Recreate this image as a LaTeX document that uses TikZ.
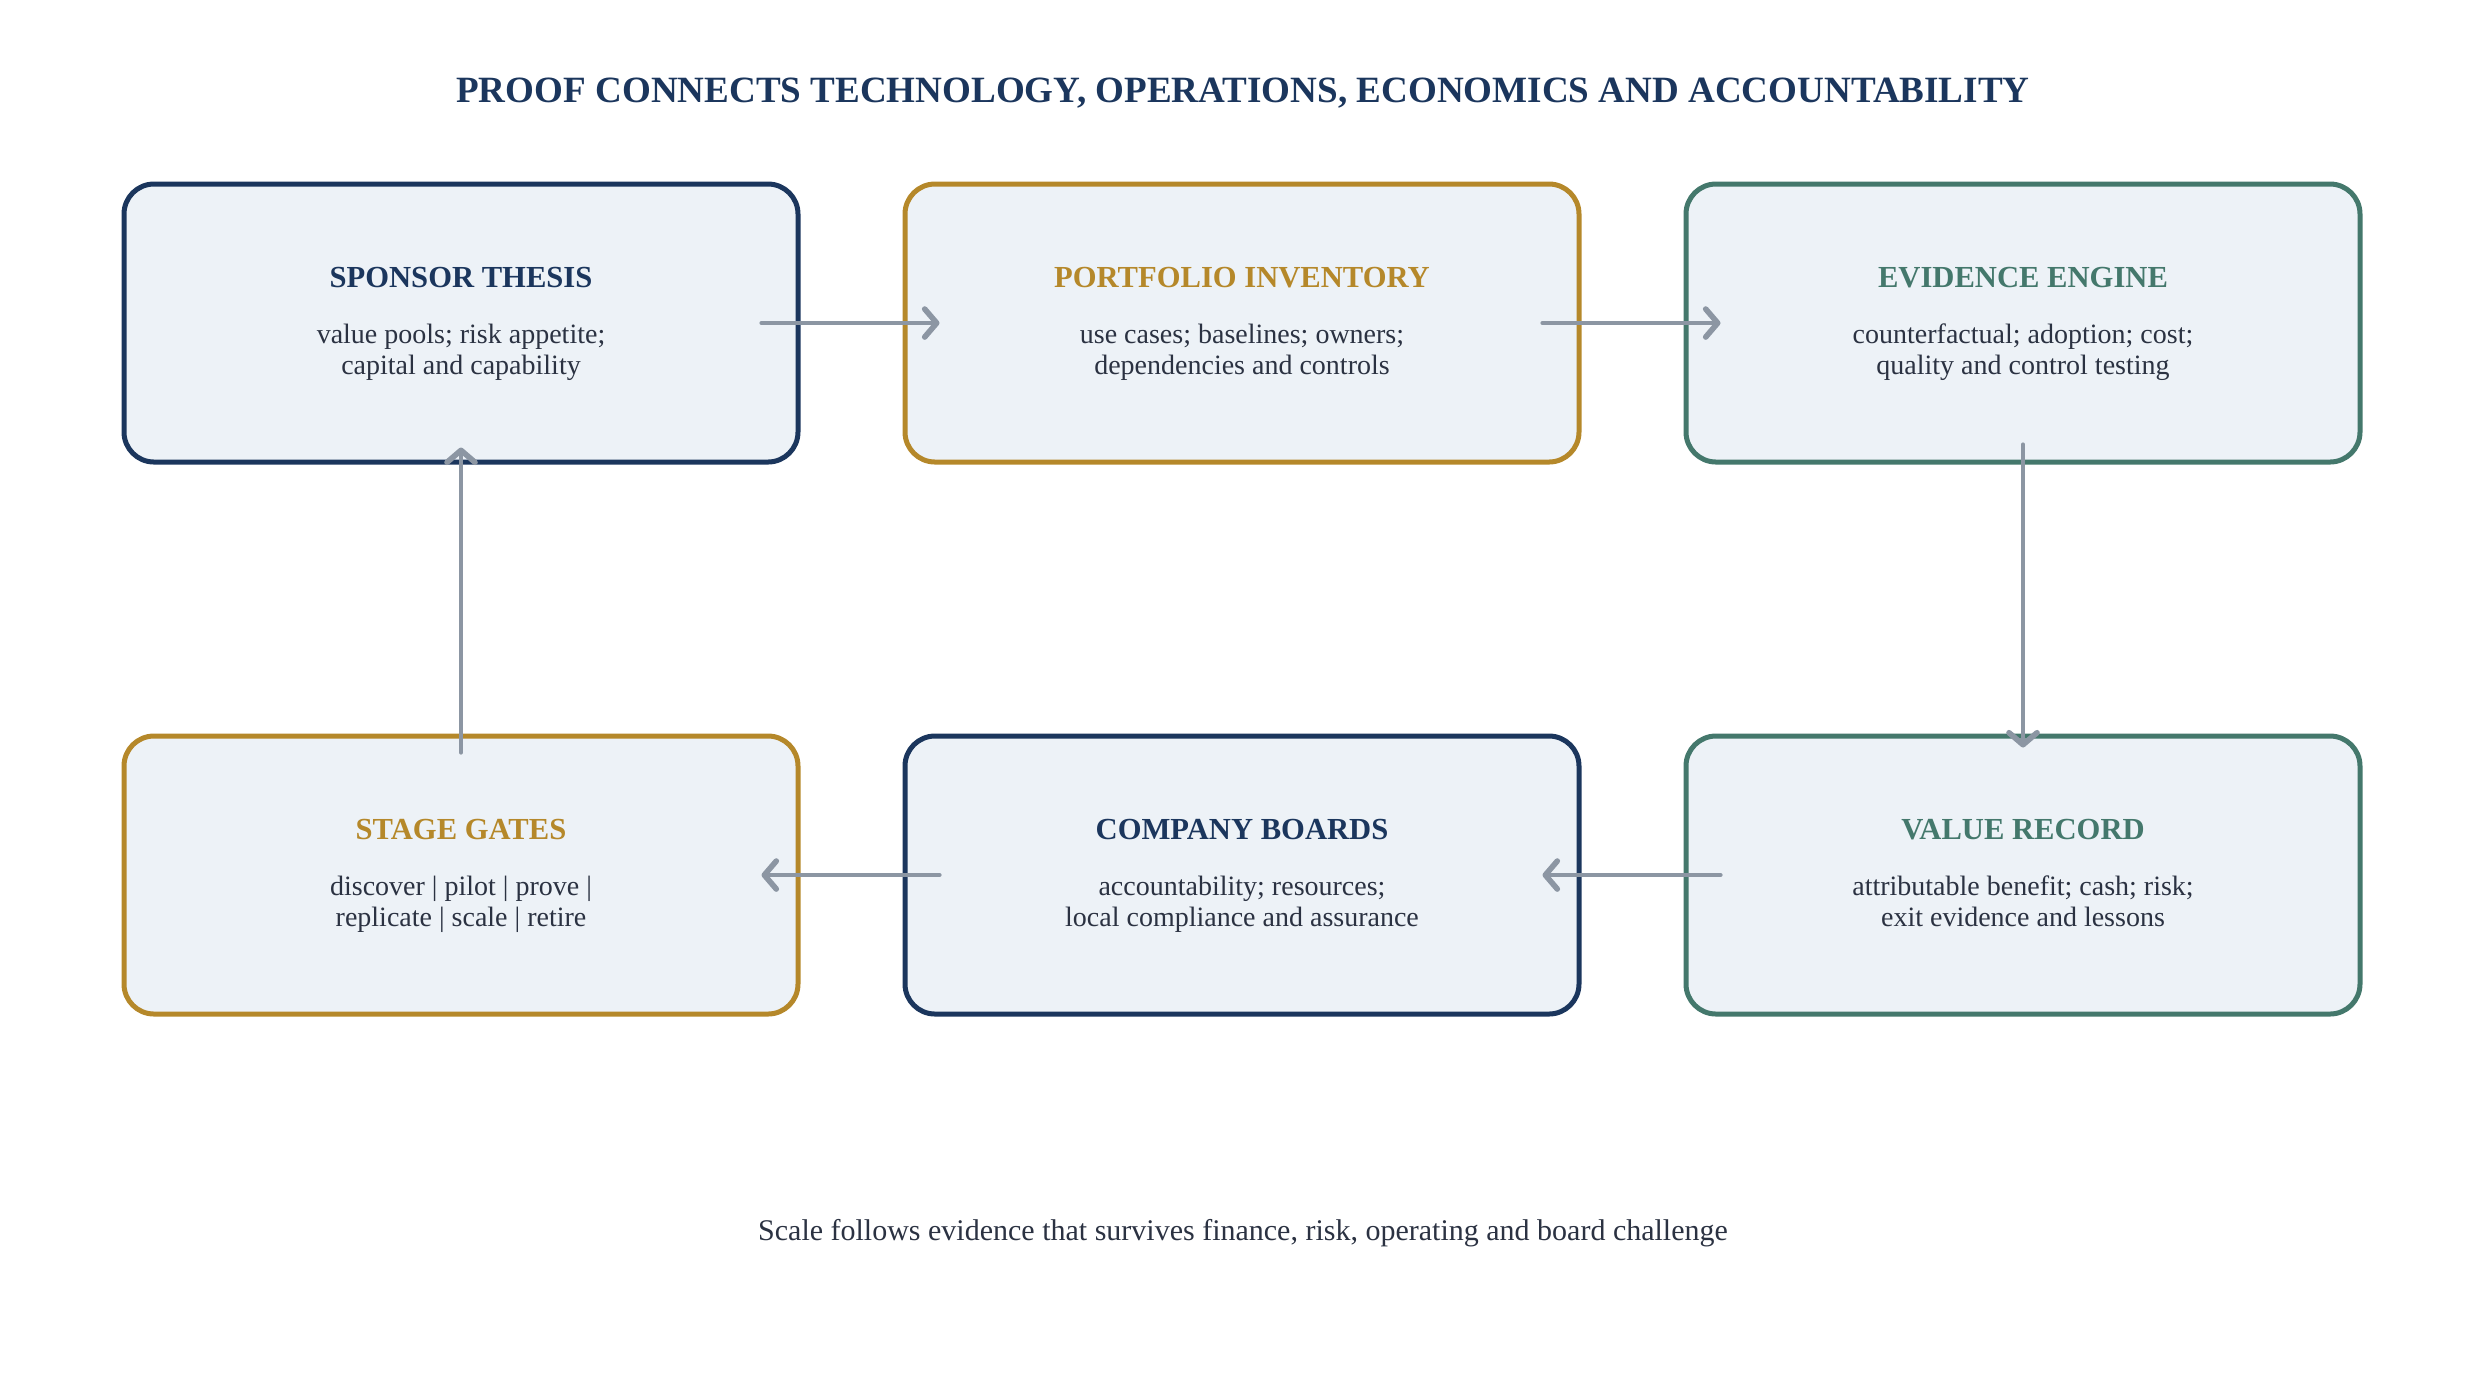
\documentclass[tikz,border=0pt]{standalone}
\usepackage{fontspec}
\setmainfont{Liberation Serif}
\usepackage{xcolor}
\usetikzlibrary{positioning,arrows.meta}

\definecolor{navy}{HTML}{1B365D}
\definecolor{gold}{HTML}{B5882A}
\definecolor{teal}{HTML}{44786C}
\definecolor{boxfill}{HTML}{EDF2F7}
\definecolor{ink}{HTML}{2B3242}
\definecolor{flowgray}{HTML}{8C96A3}

\tikzset{
    stage/.style ={draw,rounded corners=7.5pt,line width=1.25pt,fill=boxfill,
        minimum width=168.5pt,minimum height=69.5pt,align=center,
        text=ink,font=\fontsize{7}{7.6}\selectfont},
    flow/.style ={draw=flowgray,line width=1.05pt,line cap=round,
        -{Straight Barb[length=3pt,width=7pt,line width=1.4pt,line cap=round,round]}}
}
\newcommand{\stagehead}[2]{{\fontsize{7.65}{9}\selectfont\bfseries\color{#1}\rule{0pt}{6.3pt}#2}\\[6.4pt]}

\begin{document}
\begin{tikzpicture}[x=0.25pt,y=-0.25pt]
            \useasboundingbox (0,0) rectangle (2486,1386);
            \node[font=\fontsize{9.27}{10}\selectfont\bfseries,text=navy] (title) at (1243,93)
                {PROOF CONNECTS TECHNOLOGY, OPERATIONS, ECONOMICS AND ACCOUNTABILITY};
            % top row
            \node[stage,draw=navy] (sponsor) at (461,323)
                {\stagehead{navy}{SPONSOR THESIS}value pools; risk appetite;\\capital and capability\strut};
            \node[stage,draw=gold] (portfolio)[right=25.5pt of sponsor]
                {\stagehead{gold}{PORTFOLIO INVENTORY}use cases; baselines; owners;\\dependencies and controls\strut};
            \node[stage,draw=teal] (engine)[right=25.5pt of portfolio]
                {\stagehead{teal}{EVIDENCE ENGINE}counterfactual; adoption; cost;\\quality and control testing\strut};
            % bottom row
            \node[stage,draw=teal] (record)[below=67.25pt of engine]
                {\stagehead{teal}{VALUE RECORD}attributable benefit; cash; risk;\\exit evidence and lessons\strut};
            \node[stage,draw=navy] (boards)[below=67.25pt of portfolio]
                {\stagehead{navy}{COMPANY BOARDS}accountability; resources;\\local compliance and assurance\strut};
            \node[stage,draw=gold] (gates)[below=67.25pt of sponsor]
                {\stagehead{gold}{STAGE GATES}discover | pilot | prove |\\replicate | scale | retire\strut};
            \node[font=\fontsize{7.5}{9}\selectfont,text=ink] (footer) at (1243,1233)
                {Scale follows evidence that survives finance, risk, operating and board challenge};
            % connectors
            \draw[flow] ([xshift=-9.75pt]sponsor.east) -- ([xshift=9.25pt]portfolio.west);
            \draw[flow] ([xshift=-9.75pt]portfolio.east) -- ([xshift=9.25pt]engine.west);
            \draw[flow] ([yshift=5pt]engine.south) -- ([yshift=-3.5pt]record.north);
            \draw[flow] ([xshift=9.25pt]record.west) -- ([xshift=-9.75pt]boards.east);
            \draw[flow] ([xshift=9.25pt]boards.west) -- ([xshift=-9.75pt]gates.east);
            \draw[flow] ([yshift=-4.75pt]gates.north) -- ([yshift=4.25pt]sponsor.south);
        \end{tikzpicture}
\end{document}
